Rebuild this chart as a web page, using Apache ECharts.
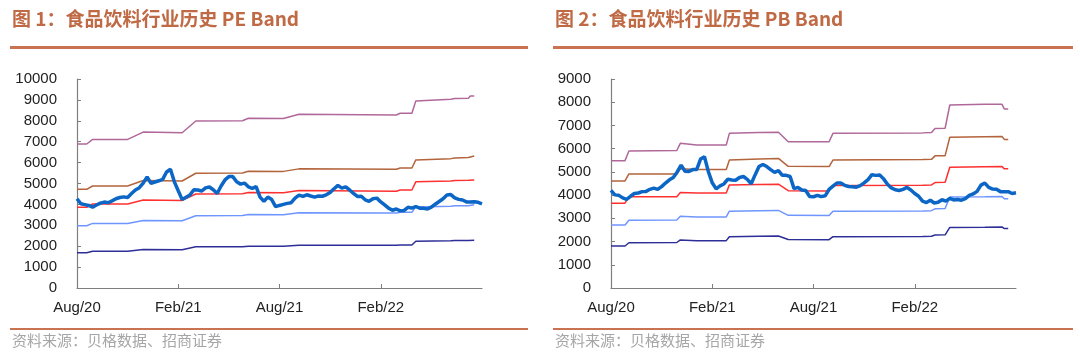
<!DOCTYPE html>
<html><head><meta charset="utf-8">
<script src="https://cdn.jsdelivr.net/npm/echarts@6/dist/echarts.min.js"></script>
<style>html,body{margin:0;padding:0;background:#fff}#c{width:1080px;height:357px}</style>
</head><body><div id="c"></div>
<script>
// x axis: weekly positions, Aug 2020 .. ~Aug 2022
const xTickLabels = ['Aug/20', 'Feb/21', 'Aug/21', 'Feb/22'];
const xTickPos = [0, 26, 52, 78];
const xMax = 104;

// Chart 1: PE Band
const peIndex = [4270,4030,3990,3950,3870,3970,4060,4110,4080,4170,4270,4330,4360,4330,4520,4690,4800,5020,5320,5010,
  5070,5130,5200,5550,5680,5080,4650,4230,4340,4450,4700,4690,4640,4790,4830,4700,4520,4880,5170,5330,
  5330,5080,4970,5020,4840,4770,4850,4350,4150,4350,4230,3890,3950,4000,4050,4080,4300,4440,4380,4460,
  4400,4350,4400,4390,4460,4570,4750,4910,4780,4840,4690,4530,4380,4390,4220,4150,4270,4300,4120,3980,
  3820,3720,3780,3690,3710,3860,3820,3900,3820,3810,3780,3870,4010,4140,4270,4450,4470,4310,4240,4210,
  4120,4110,4130,4100,4030];
const peBandX = [0, 2.5, 4, 13, 17, 27, 30.5, 42.5, 44, 53, 57, 82, 83, 86, 87, 96, 97, 100.5, 101, 102];
const peBand1 = [6890,6890,7110,7110,7460,7430,7990,8000,8120,8110,8310,8280,8360,8360,8950,9030,9070,9080,9190,9190];
const peBand2 = [4720,4720,4880,4880,5140,5120,5490,5500,5590,5580,5700,5680,5740,5740,6130,6190,6220,6240,6320,6320];
const peBand3 = [3860,3860,4020,4020,4210,4190,4500,4510,4570,4560,4660,4630,4690,4690,5080,5120,5140,5150,5170,5170];
const peBand4 = [2980,2980,3090,3090,3230,3220,3460,3470,3520,3510,3600,3590,3620,3620,3880,3910,3930,3940,3980,3980];
const peBand5 = [1690,1690,1760,1760,1840,1830,1970,1970,2000,2000,2040,2040,2060,2060,2240,2260,2270,2275,2290,2290];

// Chart 2: PB Band
const pbIndex = [4200,4010,3990,3880,3820,3950,4070,4090,4150,4160,4250,4300,4250,4365,4520,4660,4760,5000,5290,5030,
  5020,5100,5100,5550,5650,5010,4530,4270,4400,4480,4690,4650,4640,4760,4800,4680,4490,4870,5230,5320,
  5230,5100,4980,5050,4850,4850,4800,4280,4330,4220,4200,3940,3930,3990,3935,3970,4250,4390,4520,4520,
  4420,4370,4360,4340,4410,4530,4670,4880,4850,4870,4700,4470,4310,4230,4200,4250,4330,4220,4070,3950,
  3740,3680,3780,3660,3690,3800,3740,3860,3790,3810,3780,3850,3990,4050,4160,4430,4520,4330,4260,4250,
  4150,4150,4150,4070,4100];
const pbBandX = [0, 3.6, 4.6, 16.9, 17.8, 22, 29.6, 30.4, 38, 43, 45.5, 56, 57, 80, 82.3, 83.2, 85.8, 87, 96, 100.4, 101, 102];
const pbBand1 = [5485,5485,5900,5920,6230,6160,6160,6660,6700,6710,6300,6300,6660,6680,6700,6870,6880,7880,7910,7910,7710,7710];
const pbBand2 = [4610,4610,4910,4910,5130,5100,5100,5510,5560,5580,5240,5230,5510,5530,5540,5690,5700,6490,6510,6520,6400,6400];
const pbBand3 = [3650,3650,3930,3930,4110,4090,4090,4440,4460,4470,4190,4180,4410,4430,4440,4540,4550,5200,5220,5230,5130,5130];
const pbBand4 = [2715,2715,2920,2930,3090,3060,3060,3310,3330,3340,3130,3120,3310,3320,3330,3410,3420,3920,3930,3940,3840,3840];
const pbBand5 = [1810,1810,1950,1960,2070,2040,2040,2210,2230,2240,2090,2080,2210,2220,2230,2280,2290,2610,2620,2630,2560,2560];

const bandColors = ['#b0689a', '#b3643c', '#ff3030', '#6f96ff', '#2e2e98'];
const mainColor = '#0b66c6';
const titleColor = '#c06a45';
const ruleColor = '#c97352';

const pairs = (xs, ys) => xs.map((x, i) => [x, ys[i]]);
const seq = ys => ys.map((y, i) => [i, y]);

function bandSeries(gi, xs, bands) {
  return bands.map((b, k) => ({
    type: 'line', xAxisIndex: gi, yAxisIndex: gi, data: pairs(xs, b),
    symbol: 'none', silent: true, z: 2,
    lineStyle: { color: bandColors[k], width: 1.5 }
  }));
}

const grids = [
  { left: 77, top: 79, width: 405, height: 209 },
  { left: 611, top: 79, width: 405, height: 209 }
];
const axisFont = { fontFamily: 'Liberation Sans, Arial, sans-serif', fontSize: 15, color: '#222' };

function xAxis(gi) {
  return {
    type: 'value', gridIndex: gi, min: 0, max: xMax,
    axisLine: { lineStyle: { color: '#7f7f7f', width: 1.2 } },
    axisTick: { inside: true, length: 4, customValues: xTickPos, lineStyle: { color: '#7f7f7f' } },
    axisLabel: Object.assign({ margin: 12, customValues: xTickPos,
      formatter: v => xTickLabels[xTickPos.indexOf(v)] || '' }, axisFont),
    splitLine: { show: false }
  };
}
function yAxis(gi, max) {
  return {
    type: 'value', gridIndex: gi, min: 0, max: max, interval: 1000,
    axisLine: { show: true, lineStyle: { color: '#7f7f7f', width: 1.2 } },
    axisTick: { show: true, inside: true, length: 4, lineStyle: { color: '#7f7f7f' } },
    axisLabel: Object.assign({ margin: 20, formatter: v => String(v) }, axisFont),
    splitLine: { show: false }
  };
}

const series = [].concat(
  bandSeries(0, peBandX, [peBand1, peBand2, peBand3, peBand4, peBand5]),
  [{ type: 'line', xAxisIndex: 0, yAxisIndex: 0, data: seq(peIndex), symbol: 'none', z: 5,
     lineStyle: { color: mainColor, width: 3.5 } }],
  bandSeries(1, pbBandX, [pbBand1, pbBand2, pbBand3, pbBand4, pbBand5]),
  [{ type: 'line', xAxisIndex: 1, yAxisIndex: 1, data: seq(pbIndex), symbol: 'none', z: 5,
     lineStyle: { color: mainColor, width: 3.5 } }]
);

const titleFont = { fontFamily: 'Noto Sans CJK SC, sans-serif', fontSize: 19, fontWeight: 'bold', fill: titleColor };
const srcFont = { fontFamily: 'Noto Sans CJK SC, sans-serif', fontSize: 15, fill: '#a6a6a6' };

const graphic = [
  { type: 'text', left: 12, top: 9, style: Object.assign({ text: '图 1：食品饮料行业历史 PE Band' }, titleFont) },
  { type: 'text', left: 555, top: 9, style: Object.assign({ text: '图 2：食品饮料行业历史 PB Band' }, titleFont) },
  { type: 'rect', shape: { x: 10, y: 46, width: 518, height: 3 }, style: { fill: ruleColor } },
  { type: 'rect', shape: { x: 553, y: 46, width: 520, height: 3 }, style: { fill: ruleColor } },
  { type: 'rect', shape: { x: 10, y: 328, width: 518, height: 2 }, style: { fill: ruleColor } },
  { type: 'rect', shape: { x: 553, y: 328, width: 520, height: 2 }, style: { fill: ruleColor } },
  { type: 'text', left: 12, top: 333, style: Object.assign({ text: '资料来源：贝格数据、招商证券' }, srcFont) },
  { type: 'text', left: 555, top: 333, style: Object.assign({ text: '资料来源：贝格数据、招商证券' }, srcFont) }
];

const chart = echarts.init(document.getElementById('c'), null, { renderer: 'canvas' });
chart.setOption({
  animation: false,
  backgroundColor: '#fff',
  grid: grids,
  xAxis: [xAxis(0), xAxis(1)],
  yAxis: [yAxis(0, 10000), yAxis(1, 9000)],
  series: series,
  graphic: graphic
});
</script></body></html>
